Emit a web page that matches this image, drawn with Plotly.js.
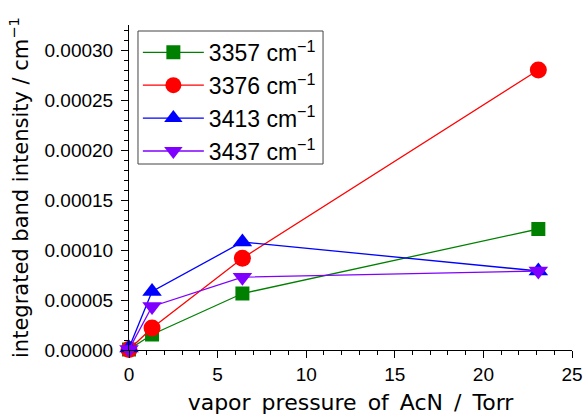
<!DOCTYPE html>
<html>
<head>
<meta charset="utf-8">
<script src="https://cdn.plot.ly/plotly-3.0.1.min.js"></script>
<style>html,body{margin:0;padding:0;background:#fff;}#chart{width:584px;height:415px;}</style>
</head>
<body>
<div id="chart"></div>
<script>
const pressure = [0, 1.3, 6.4, 23.1];
const band3357 = [0.0000005, 0.0000155, 0.0000565, 0.000121];
const band3376 = [0.0000005, 0.0000220, 0.0000918, 0.000280];
const band3413 = [0.0000020, 0.0000585, 0.0001080, 0.0000790];
const band3437 = [0.0000005, 0.0000435, 0.0000728, 0.0000790];
const seriesNames = ['3357 cm<sup>−1</sup>', '3376 cm<sup>−1</sup>', '3413 cm<sup>−1</sup>', '3437 cm<sup>−1</sup>'];
const xTitle = 'vapor\u2002pressure\u2002of\u2002AcN\u2002/\u2002Torr';
const yTitle = 'integrated band intensity / cm<sup>−1</sup>';

const styles = [
  {color: '#008000', symbol: 'square', size: 14},
  {color: '#ff0000', symbol: 'circle', size: 17},
  {color: '#0000ff', symbol: 'triangle-up', size: 17},
  {color: '#8000ff', symbol: 'triangle-down', size: 17}
];
const values = [band3357, band3376, band3413, band3437];

const traces = values.map((v, i) => ({
  x: pressure, y: v, name: seriesNames[i], type: 'scatter', mode: 'lines+markers',
  line: {color: styles[i].color, width: 1.3},
  marker: {color: styles[i].color, symbol: styles[i].symbol, size: styles[i].size, line: {width: 0}},
  cliponaxis: false
}));

const font = 'Liberation Sans, Arial, sans-serif';
const titleFont = 'DejaVu Sans, sans-serif';
const layout = {
  width: 584, height: 415,
  margin: {l: 129, r: 12, t: 25, b: 65},
  paper_bgcolor: '#fff', plot_bgcolor: '#fff',
  font: {family: font, color: '#000', size: 19},
  showlegend: true,
  legend: {
    x: 0.02, y: 0.982, xanchor: 'left', yanchor: 'top',
    borderwidth: 0, bgcolor: 'rgba(0,0,0,0)',
    font: {size: 23, family: font}, itemwidth: 61, tracegroupgap: 0,
    itemsizing: 'trace'
  },
  shapes: [{
    type: 'rect', xref: 'paper', yref: 'paper',
    x0: 0.0203, x1: 0.438, y0: 0.5723, y1: 0.9815,
    line: {color: '#444', width: 1}, fillcolor: 'rgba(0,0,0,0)', layer: 'above'
  }],
  xaxis: {
    range: [0, 25], dtick: 5, tick0: 0, showgrid: false, zeroline: false,
    showline: true, linecolor: '#000', linewidth: 1,
    ticks: 'outside', ticklen: 7, tickcolor: '#000',
    minor: {dtick: 1, ticks: 'outside', ticklen: 4, tickcolor: '#000', showgrid: false},
    tickfont: {size: 19},
    title: {text: xTitle, font: {size: 22, family: titleFont}, standoff: 18}
  },
  yaxis: {
    range: [0, 0.000325], dtick: 0.00005, tick0: 0, tickformat: '.5f',
    showgrid: false, zeroline: false,
    showline: true, linecolor: '#000', linewidth: 1,
    ticks: 'outside', ticklen: 7, tickcolor: '#000', ticklabelstandoff: 4,
    minor: {dtick: 0.00001, ticks: 'outside', ticklen: 4, tickcolor: '#000', showgrid: false},
    tickfont: {size: 19},
    title: {text: yTitle, font: {size: 21, family: titleFont}, standoff: 10}
  }
};

Plotly.newPlot('chart', traces, layout, {displayModeBar: false, staticPlot: true});
</script>
</body>
</html>
